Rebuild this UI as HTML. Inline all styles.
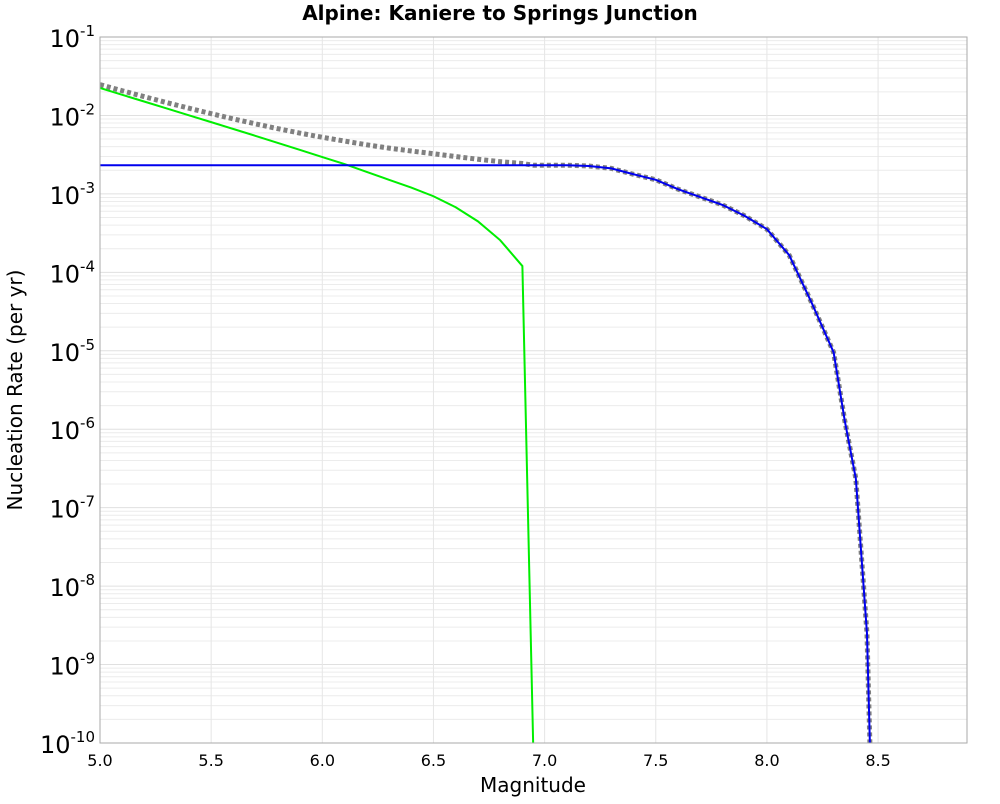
<!DOCTYPE html>
<html><head><meta charset="utf-8"><style>
body{margin:0;background:#fff;font-family:"DejaVu Sans","Liberation Sans",sans-serif}
svg text{font-family:"DejaVu Sans","Liberation Sans",sans-serif}
</style></head><body>
<svg width="1000" height="800" id="c" xmlns="http://www.w3.org/2000/svg"></svg>
<script>
const mags=[5.0,5.1,5.2,5.3,5.4,5.5,5.6,5.7,5.8,5.9,6.0,6.1,6.2,6.3,6.4,6.5,6.6,6.7,6.8,6.9,6.95];
const greenLog=[-1.65,-1.737,-1.824,-1.911,-1.998,-2.085,-2.173,-2.261,-2.35,-2.44,-2.53,-2.62,-2.72,-2.82,-2.92,-3.03,-3.17,-3.35,-3.59,-3.92,-10.2];
const blueMags=[5.0,7.1,7.2,7.3,7.4,7.5,7.6,7.7,7.8,7.9,8.0,8.1,8.2,8.3,8.35,8.4,8.45,8.465];
const blueLog=[-2.635,-2.635,-2.645,-2.675,-2.75,-2.82,-2.94,-3.04,-3.14,-3.28,-3.45,-3.78,-4.38,-5.02,-5.89,-6.63,-8.6,-10.2];
const xTicks=[5.0,5.5,6.0,6.5,7.0,7.5,8.0,8.5];
const yExps=[-1,-2,-3,-4,-5,-6,-7,-8,-9,-10];
const L=100,R=967,T=37,B=743,xmin=5,xmax=8.9;
const X=m=>L+(m-xmin)/(xmax-xmin)*(R-L);
const Y=l=>T+(-1-l)/9*(B-T);
const s=document.getElementById('c');const NS='http://www.w3.org/2000/svg';
function el(t,a,p){const e=document.createElementNS(NS,t);for(const k in a)e.setAttribute(k,a[k]);(p||s).appendChild(e);return e;}
const g=el('g',{});
for(let d=-10;d<-1;d++)for(let k=1;k<10;k++){const y=Y(d+Math.log10(k));el('line',{x1:L,x2:R,y1:y,y2:y,stroke:k==1?'#e0e0e0':'#ececec','stroke-width':1},g);}
for(let m=5;m<=8.9;m+=0.5){const x=X(m);el('line',{x1:x,x2:x,y1:T,y2:B,stroke:'#e6e6e6'},g);}
const clip=el('clipPath',{id:'cp'});el('rect',{x:L,y:T,width:R-L,height:B-T},clip);
function interp(xs,ys,m){if(m<xs[0]||m>xs[xs.length-1])return -99;for(let i=0;i<xs.length-1;i++)if(m<=xs[i+1]){const t=(m-xs[i])/(xs[i+1]-xs[i]);return ys[i]+t*(ys[i+1]-ys[i]);}return ys[ys.length-1];}
const all=[...new Set([...mags,...blueMags])].sort((a,b)=>a-b);
const tot=all.map(m=>{const a=interp(mags,greenLog,m),b=interp(blueMags,blueLog,m);return Math.log10(Math.pow(10,a)+Math.pow(10,b));});
function line(xs,ys,attrs,name){const p=el('polyline',Object.assign({points:xs.map((m,i)=>X(m)+','+Y(ys[i])).join(' '),fill:'none','clip-path':'url(#cp)'},attrs));}
line(all,tot,{stroke:'#808080','stroke-width':5,'stroke-dasharray':'4,3'},'total-series');
line(mags,greenLog,{stroke:'#00ee00','stroke-width':2},'green-series');
line(blueMags,blueLog,{stroke:'#0000ee','stroke-width':2},'blue-series');
el('rect',{x:L,y:T,width:R-L,height:B-T,fill:'none',stroke:'#aaa'});
xTicks.forEach(m=>{const t=el('text',{x:X(m),y:766,'text-anchor':'middle','font-size':16});t.textContent=m.toFixed(1);});
yExps.forEach(e=>{const t=el('text',{x:95,y:Y(e)+10,'text-anchor':'end','font-size':24});t.innerHTML='10<tspan dy="-11" font-size="15">'+e+'</tspan>';});
const xt=el('text',{x:533,y:792,'text-anchor':'middle','font-size':20});xt.textContent='Magnitude';
const yt=el('text',{x:22,y:390,'text-anchor':'middle','font-size':20,transform:'rotate(-90 22 390)'});yt.textContent='Nucleation Rate (per yr)';
const tt=el('text',{x:500,y:20,'text-anchor':'middle','font-size':20,'font-weight':'bold'});tt.textContent='Alpine: Kaniere to Springs Junction';
</script>
</body></html>
